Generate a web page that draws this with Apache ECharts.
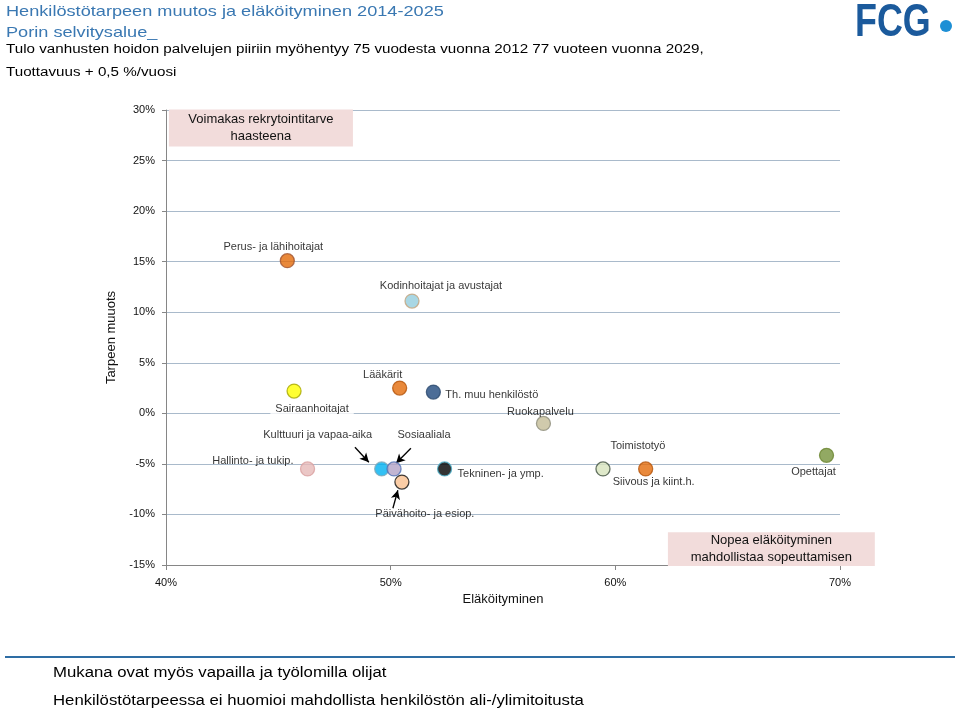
<!DOCTYPE html>
<html>
<head>
<meta charset="utf-8">
<script src="https://cdn.jsdelivr.net/npm/echarts@6/dist/echarts.min.js"></script>
<style>html,body{margin:0;padding:0;background:#fff;}#c{width:959px;height:708px;}</style>
</head>
<body>
<div id="c"></div>
<script>
// ---- data ----
const names = ['Perus- ja lähihoitajat','Kodinhoitajat ja avustajat','Sairaanhoitajat','Lääkärit','Th. muu henkilöstö','Ruokapalvelu','Hallinto- ja tukip.','Kulttuuri ja vapaa-aika','Sosiaaliala','Päivähoito- ja esiop.','Tekninen- ja ymp.','Toimistotyö','Siivous ja kiint.h.','Opettajat'];
const retirement = [45.4, 50.95, 45.7, 50.4, 51.9, 56.8, 46.3, 49.6, 50.15, 50.5, 52.4, 59.45, 61.35, 69.4];
const needChange = [15.1, 11.1, 2.2, 2.5, 2.1, -1.0, -5.5, -5.5, -5.5, -6.8, -5.5, -5.5, -5.5, -4.15];
const xTicks = [40, 50, 60, 70];
const yTicks = [-15, -10, -5, 0, 5, 10, 15, 20, 25, 30];
const headerLines = ['Henkilöstötarpeen muutos ja eläköityminen 2014-2025', 'Porin selvitysalue_'];
const subLines = ['Tulo vanhusten hoidon palvelujen piiriin myöhentyy 75 vuodesta vuonna 2012 77 vuoteen vuonna 2029,', 'Tuottavuus + 0,5 %/vuosi'];
const footLines = ['Mukana ovat myös vapailla ja työlomilla olijat', 'Henkilöstötarpeessa ei huomioi mahdollista henkilöstön ali-/ylimitoitusta'];

// ---- styles ----
const fills = ['#E46C0A','#93CDDD','#FFFF00','#E46C0A','#1F497D','#C4BD97','#E6B9B8','#00B0F0','#B3A2C7','#FAC090','#000000','#D7E4BD','#E46C0A','#77933C'];
const borders = ['#A0522D','#C4A27A','#A6A600','#B4540A','#2C4A6E','#8C8C7A','#D9A0A0','#7FA7B8','#4F6FB5','#111111','#4BACC6','#3F4F3F','#B4540A','#6A8530'];
const FONT = 'Liberation Sans';
const labelLayout = {
  'Perus- ja lähihoitajat': {offset:[-14,-14]},
  'Kodinhoitajat ja avustajat': {offset:[29,-15]},
  'Sairaanhoitajat': {offset:[18,18], bg:true},
  'Lääkärit': {offset:[-17,-13]},
  'Th. muu henkilöstö': {offset:[12,3], align:'left'},
  'Ruokapalvelu': {offset:[-3,-11]},
  'Hallinto- ja tukip.': {offset:[-14,-8], align:'right'},
  'Kulttuuri ja vapaa-aika': {offset:[-64,-34]},
  'Sosiaaliala': {offset:[30,-34]},
  'Päivähoito- ja esiop.': {offset:[23,32]},
  'Tekninen- ja ymp.': {offset:[8,5], align:'left', bg:true},
  'Toimistotyö': {offset:[35,-23]},
  'Siivous ja kiint.h.': {offset:[8,13]},
  'Opettajat': {offset:[-13,17]}
};

const seriesData = names.map((n, i) => {
  const L = labelLayout[n];
  const lab = {
    show: true, position: 'inside', formatter: n, offset: L.offset,
    align: L.align || 'center', verticalAlign: 'middle',
    color: '#000', fontSize: 11, fontFamily: FONT
  };
  if (L.bg) { lab.backgroundColor = '#fff'; lab.padding = [1, 5, 1, 5]; }
  return {
    name: n, value: [retirement[i], needChange[i]],
    itemStyle: {color: fills[i], borderColor: borders[i], borderWidth: 1.3},
    label: lab
  };
});

const arrows = [
  [[48.41, -3.36], [49.03, -4.84]],
  [[50.90, -3.46], [50.24, -4.94]],
  [[50.10, -9.39], [50.32, -7.61]]
];

const chart = echarts.init(document.getElementById('c'), null, {renderer: 'canvas'});
const blue = '#3A78B2';
const option = {
  backgroundColor: '#fff',
  animation: false,
  grid: {left: 166, right: 119, top: 110, bottom: 143},
  xAxis: {
    type: 'value', min: xTicks[0], max: xTicks[xTicks.length - 1], interval: 10,
    name: 'Eläköityminen', nameLocation: 'middle', nameGap: 28,
    nameTextStyle: {fontSize: 13, color: '#111', fontFamily: FONT},
    axisLine: {show: true, onZero: false, lineStyle: {color: '#868686', width: 1}},
    axisTick: {show: true, length: 5, inside: false, lineStyle: {color: '#868686'}},
    axisLabel: {formatter: '{value}%', fontSize: 11, color: '#111', fontFamily: FONT, margin: 12},
    splitLine: {show: false}
  },
  yAxis: {
    type: 'value', min: yTicks[0], max: yTicks[yTicks.length - 1], interval: 5,
    name: 'Tarpeen muuots', nameLocation: 'middle', nameGap: 41, nameRotate: 90,
    nameTextStyle: {fontSize: 13, color: '#111', fontFamily: FONT},
    axisLine: {show: true, lineStyle: {color: '#868686', width: 1}},
    axisTick: {show: true, length: 4, lineStyle: {color: '#868686'}},
    axisLabel: {formatter: '{value}%', fontSize: 11, color: '#111', fontFamily: FONT, margin: 11},
    splitLine: {show: true, lineStyle: {color: '#A9BACB', width: 1.2}}
  },
  series: [{
    type: 'scatter',
    symbolSize: 14,
    data: seriesData,
    z: 5,
    markLine: {
      silent: true, animation: false,
      symbol: ['none', 'arrow'], symbolSize: [7, 9],
      label: {show: false},
      lineStyle: {color: '#000', width: 1.3, type: 'solid'},
      data: arrows.map(a => [{coord: a[0]}, {coord: a[1]}])
    }
  }]
};
chart.setOption(option);

// annotation boxes positioned via the axes
function px(x, y) { return chart.convertToPixel({gridIndex: 0}, [x, y]); }
const b1a = px(40.13, 30.05), b1b = px(48.32, 26.4);
const b2a = px(62.34, -11.75), b2b = px(71.55, -15.1);
const boxText = {fontSize: 13, fill: '#111', fontFamily: FONT, align: 'center', verticalAlign: 'middle', lineHeight: 17};
function txt(s, x, y, size, color, sx) {
  return {type: 'text', x: x, y: y, scaleX: sx, z: 11,
    style: {text: s, fontSize: size, fill: color, fontFamily: FONT, align: 'left', verticalAlign: 'middle'}};
}
chart.setOption({
  graphic: [
    {type: 'rect', shape: {x: b1a[0], y: b1a[1], width: b1b[0] - b1a[0], height: b1b[1] - b1a[1]}, style: {fill: '#F2DCDB'}, z: 10},
    {type: 'text', x: (b1a[0] + b1b[0]) / 2, y: (b1a[1] + b1b[1]) / 2, style: Object.assign({text: 'Voimakas rekrytointitarve\nhaasteena'}, boxText), z: 11},
    {type: 'rect', shape: {x: b2a[0], y: b2a[1], width: b2b[0] - b2a[0], height: b2b[1] - b2a[1]}, style: {fill: '#F2DCDB'}, z: 10},
    {type: 'text', x: (b2a[0] + b2b[0]) / 2, y: (b2a[1] + b2b[1]) / 2, style: Object.assign({text: 'Nopea eläköityminen\nmahdollistaa sopeuttamisen'}, boxText), z: 11},
    txt(headerLines[0], 6, 12, 15, blue, 1.21),
    txt(headerLines[1], 6, 33, 15, blue, 1.21),
    txt(subLines[0], 6, 50, 12.5, '#000', 1.215),
    txt(subLines[1], 6, 73, 12.5, '#000', 1.215),
    txt(footLines[0], 53, 673, 14, '#000', 1.197),
    txt(footLines[1], 53, 701, 14, '#000', 1.197),
    {type: 'line', shape: {x1: 5, y1: 657, x2: 955, y2: 657}, style: {stroke: '#2E6DA4', lineWidth: 2}, z: 10},
    {type: 'text', x: 855, y: 23, scaleX: 0.78, z: 11, style: {text: 'FCG', fontSize: 46, fontWeight: 'bold', fill: '#1B5A9C', fontFamily: FONT, verticalAlign: 'middle', align: 'left'}},
    {type: 'circle', shape: {cx: 946, cy: 26, r: 6}, style: {fill: '#1E8FD5'}, z: 11}
  ]
});
</script>
</body>
</html>
